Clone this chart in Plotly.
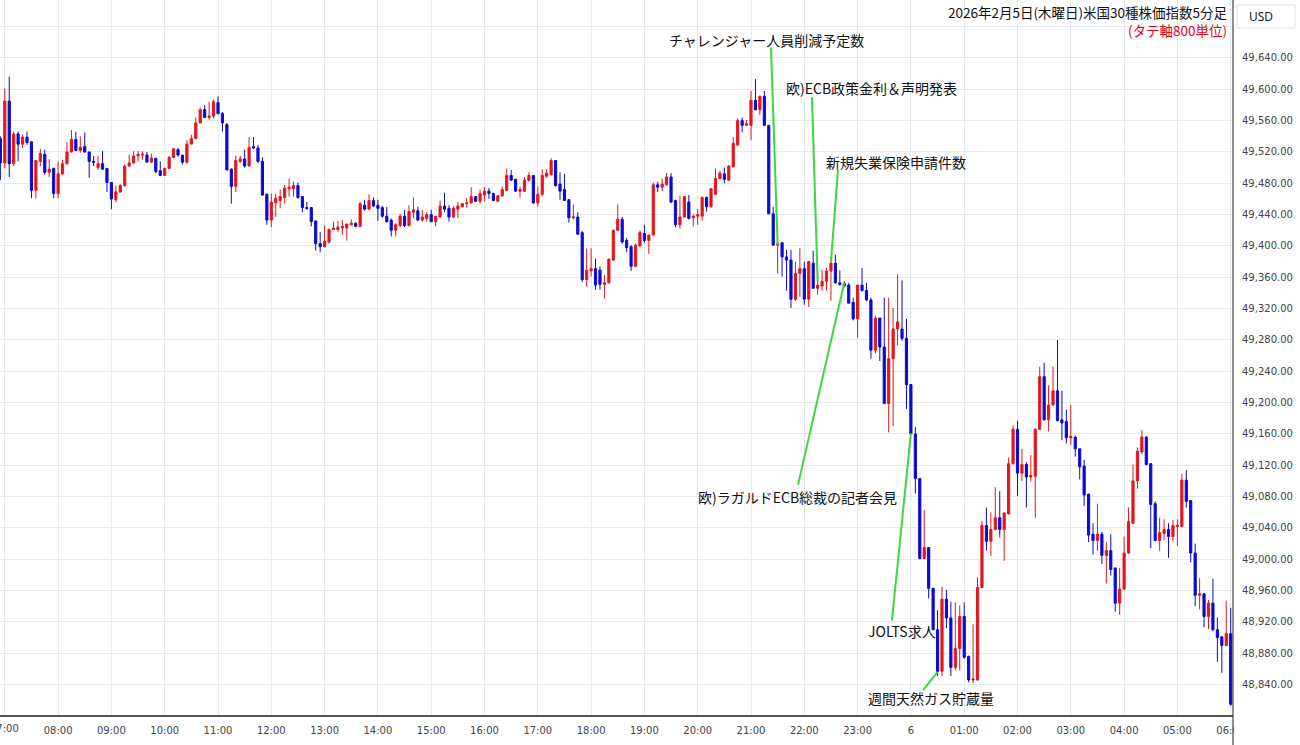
import pandas as pd
import plotly.graph_objects as go

# ---------------- data ----------------
start_time = "2026-02-05 06:55"
n_candles = 279
times = pd.date_range(start_time, periods=n_candles, freq="5min")

open_ = [
    49537, 49506, 49585, 49505, 49543, 49530, 49539, 49533, 49471, 49508,
    49517, 49494, 49499, 49467, 49492, 49505, 49520, 49536, 49522, 49527,
    49520, 49508, 49500, 49505, 49499, 49481, 49459, 49469, 49477, 49502,
    49506, 49515, 49516, 49516, 49507, 49512, 49496, 49490, 49499, 49513,
    49523, 49516, 49507, 49530, 49537, 49557, 49574, 49564, 49566, 49583,
    49569, 49555, 49498, 49476, 49508, 49511, 49502, 49527, 49525, 49508,
    49466, 49433, 49455, 49458, 49462, 49473, 49473, 49477, 49463, 49449,
    49449, 49432, 49403, 49399, 49405, 49421, 49421, 49423, 49423, 49427,
    49429, 49425, 49452, 49447, 49458, 49452, 49449, 49438, 49433, 49420,
    49426, 49438, 49426, 49443, 49445, 49433, 49435, 49440, 49431, 49437,
    49451, 49448, 49437, 49447, 49450, 49454, 49455, 49463, 49457, 49465,
    49470, 49467, 49457, 49464, 49471, 49490, 49485, 49470, 49470, 49484,
    49490, 49455, 49466, 49489, 49491, 49509, 49479, 49472, 49459, 49436,
    49437, 49417, 49357, 49368, 49371, 49369, 49351, 49353, 49382, 49420,
    49434, 49407, 49399, 49374, 49400, 49416, 49407, 49414, 49478, 49475,
    49478, 49488, 49458, 49427, 49437, 49456, 49436, 49438, 49438, 49462,
    49450, 49466, 49486, 49492, 49484, 49501, 49529, 49560, 49554, 49554,
    49586, 49574, 49591, 49554, 49441, 49401, 49404, 49386, 49382, 49332,
    49365, 49371, 49332, 49378, 49346, 49349, 49355, 49368, 49378, 49353,
    49352, 49350, 49328, 49307, 49350, 49343, 49331, 49267, 49308, 49271,
    49199, 49256, 49294, 49294, 49282, 49223, 49160, 49103, 49001, 49015,
    48963, 48910, 48857, 48949, 48925, 48862, 48886, 48927, 48876, 48846,
    48846, 48964, 49043, 49023, 49038, 49053, 49038, 49058, 49122, 49166,
    49110, 49121, 49105, 49106, 49166, 49233, 49178, 49197, 49215, 49178,
    49176, 49155, 49156, 49141, 49119, 49083, 49032, 49024, 49032, 49005,
    49011, 48989, 48944, 48962, 49008, 49046, 49100, 49137, 49156, 49122,
    49071, 49024, 49033, 49038, 49029, 49042, 49042, 49101, 49075, 49008,
    48954, 48956, 48927, 48944, 48910, 48901, 48890, 48905, 48815,
]

high = [
    49540, 49601, 49616, 49546, 49546, 49542, 49546, 49533, 49509, 49524,
    49523, 49511, 49500, 49508, 49510, 49533, 49548, 49546, 49540, 49545,
    49520, 49515, 49515, 49521, 49499, 49481, 49477, 49479, 49504, 49516,
    49521, 49521, 49521, 49520, 49518, 49512, 49508, 49500, 49515, 49525,
    49525, 49516, 49535, 49542, 49564, 49577, 49580, 49584, 49587, 49591,
    49571, 49557, 49499, 49515, 49515, 49523, 49539, 49539, 49529, 49513,
    49467, 49467, 49467, 49472, 49478, 49486, 49482, 49481, 49463, 49456,
    49449, 49432, 49418, 49426, 49422, 49431, 49432, 49433, 49428, 49434,
    49430, 49456, 49459, 49466, 49462, 49459, 49451, 49450, 49435, 49429,
    49441, 49446, 49452, 49462, 49450, 49446, 49443, 49446, 49438, 49458,
    49468, 49452, 49451, 49456, 49455, 49461, 49475, 49463, 49472, 49475,
    49474, 49468, 49465, 49476, 49499, 49497, 49486, 49476, 49488, 49494,
    49490, 49476, 49498, 49498, 49512, 49509, 49494, 49492, 49460, 49453,
    49443, 49419, 49397, 49397, 49384, 49374, 49363, 49384, 49421, 49453,
    49437, 49410, 49401, 49403, 49420, 49427, 49414, 49481, 49482, 49486,
    49493, 49493, 49459, 49464, 49463, 49465, 49440, 49447, 49463, 49463,
    49474, 49499, 49496, 49500, 49503, 49539, 49563, 49564, 49561, 49598,
    49613, 49592, 49598, 49554, 49450, 49404, 49405, 49395, 49395, 49380,
    49397, 49380, 49381, 49394, 49370, 49369, 49372, 49385, 49389, 49369,
    49355, 49353, 49334, 49350, 49372, 49353, 49334, 49311, 49308, 49334,
    49334, 49321, 49364, 49356, 49307, 49223, 49169, 49103, 49063, 49015,
    48963, 48935, 48965, 48961, 48946, 48945, 48941, 48945, 48877, 48917,
    48977, 49049, 49066, 49060, 49092, 49087, 49060, 49130, 49171, 49177,
    49141, 49124, 49133, 49167, 49246, 49251, 49222, 49246, 49280, 49215,
    49191, 49197, 49158, 49141, 49127, 49084, 49046, 49071, 49035, 49022,
    49032, 48989, 48989, 49029, 49066, 49121, 49143, 49165, 49157, 49123,
    49074, 49053, 49051, 49046, 49050, 49051, 49109, 49114, 49075, 49020,
    48976, 48957, 48948, 48975, 48926, 48901, 48947, 48938, 48834,
]

low = [
    49484, 49499, 49488, 49502, 49508, 49525, 49529, 49461, 49461, 49502,
    49491, 49488, 49461, 49461, 49491, 49504, 49519, 49521, 49519, 49519,
    49487, 49502, 49497, 49498, 49469, 49447, 49456, 49468, 49476, 49501,
    49505, 49508, 49510, 49507, 49506, 49493, 49489, 49490, 49499, 49513,
    49514, 49504, 49505, 49530, 49537, 49557, 49563, 49561, 49563, 49568,
    49546, 49497, 49454, 49469, 49506, 49500, 49502, 49524, 49506, 49464,
    49427, 49424, 49437, 49448, 49454, 49463, 49463, 49460, 49443, 49446,
    49425, 49394, 49392, 49398, 49403, 49420, 49418, 49414, 49407, 49427,
    49424, 49424, 49445, 49446, 49450, 49432, 49436, 49430, 49412, 49412,
    49424, 49424, 49425, 49435, 49432, 49431, 49431, 49431, 49425, 49436,
    49443, 49431, 49436, 49436, 49449, 49449, 49454, 49456, 49454, 49457,
    49460, 49457, 49456, 49463, 49470, 49483, 49469, 49462, 49469, 49482,
    49454, 49450, 49463, 49487, 49490, 49476, 49459, 49458, 49430, 49434,
    49414, 49354, 49348, 49361, 49344, 49344, 49333, 49352, 49381, 49419,
    49403, 49392, 49368, 49373, 49399, 49404, 49390, 49413, 49469, 49470,
    49477, 49455, 49424, 49422, 49436, 49434, 49425, 49427, 49432, 49444,
    49449, 49465, 49485, 49480, 49483, 49500, 49528, 49545, 49554, 49535,
    49573, 49567, 49554, 49441, 49401, 49365, 49361, 49343, 49321, 49330,
    49335, 49325, 49322, 49345, 49338, 49343, 49343, 49330, 49352, 49349,
    49347, 49327, 49305, 49283, 49342, 49330, 49256, 49263, 49253, 49198,
    49162, 49170, 49273, 49279, 49192, 49159, 49084, 49000, 49000, 48950,
    48910, 48851, 48851, 48912, 48851, 48858, 48858, 48873, 48843, 48842,
    48845, 48964, 49011, 49004, 49037, 49028, 48998, 49057, 49121, 49081,
    49100, 49066, 49099, 49053, 49165, 49177, 49163, 49196, 49176, 49152,
    49148, 49146, 49131, 49102, 49068, 49022, 49006, 49011, 48994, 48969,
    48979, 48933, 48929, 48961, 49007, 49045, 49090, 49134, 49120, 49014,
    49023, 49011, 49024, 49002, 49023, 49017, 49041, 49066, 48996, 48940,
    48936, 48913, 48911, 48908, 48869, 48855, 48889, 48813, 48812,
]

close = [
    49506, 49585, 49505, 49543, 49530, 49539, 49532, 49471, 49509, 49518,
    49494, 49498, 49467, 49492, 49505, 49520, 49536, 49522, 49526, 49520,
    49508, 49507, 49505, 49498, 49481, 49460, 49469, 49477, 49502, 49506,
    49515, 49517, 49517, 49507, 49512, 49495, 49490, 49499, 49513, 49524,
    49516, 49507, 49530, 49537, 49557, 49574, 49564, 49566, 49584, 49569,
    49557, 49497, 49476, 49509, 49511, 49502, 49526, 49525, 49508, 49465,
    49433, 49456, 49461, 49463, 49474, 49475, 49477, 49462, 49449, 49448,
    49431, 49403, 49399, 49406, 49421, 49423, 49424, 49425, 49428, 49429,
    49425, 49454, 49447, 49458, 49451, 49448, 49438, 49431, 49420, 49427,
    49438, 49426, 49444, 49446, 49433, 49437, 49440, 49431, 49438, 49451,
    49447, 49437, 49448, 49451, 49454, 49455, 49463, 49457, 49467, 49470,
    49467, 49458, 49464, 49472, 49490, 49484, 49470, 49472, 49484, 49490,
    49455, 49466, 49490, 49493, 49509, 49477, 49470, 49458, 49436, 49437,
    49415, 49357, 49369, 49371, 49350, 49351, 49353, 49383, 49420, 49434,
    49405, 49398, 49374, 49401, 49417, 49407, 49414, 49478, 49475, 49479,
    49488, 49456, 49427, 49437, 49463, 49435, 49438, 49440, 49462, 49450,
    49473, 49486, 49493, 49485, 49502, 49531, 49560, 49554, 49556, 49586,
    49574, 49591, 49554, 49441, 49401, 49403, 49386, 49382, 49332, 49365,
    49371, 49332, 49380, 49346, 49350, 49355, 49368, 49378, 49353, 49351,
    49349, 49327, 49307, 49350, 49343, 49331, 49267, 49308, 49271, 49199,
    49256, 49294, 49303, 49282, 49223, 49160, 49103, 49001, 49015, 48963,
    48910, 48857, 48949, 48925, 48862, 48886, 48927, 48875, 48846, 48847,
    48964, 49043, 49023, 49038, 49053, 49038, 49059, 49122, 49166, 49110,
    49121, 49105, 49107, 49166, 49233, 49178, 49197, 49215, 49177, 49174,
    49155, 49157, 49141, 49118, 49082, 49031, 49024, 49032, 49005, 49011,
    48987, 48944, 48962, 49008, 49048, 49100, 49138, 49156, 49121, 49070,
    49024, 49034, 49038, 49029, 49043, 49043, 49101, 49074, 49008, 48954,
    48956, 48927, 48944, 48910, 48900, 48890, 48905, 48815, 48832,
]

# hourly tick labels (midnight shows the day number)
tick_times = pd.date_range("2026-02-05 07:00", "2026-02-06 06:00", freq="h")
tick_labels = [
    "07:00", "08:00", "09:00", "10:00", "11:00", "12:00", "13:00", "14:00",
    "15:00", "16:00", "17:00", "18:00", "19:00", "20:00", "21:00", "22:00",
    "23:00", "6", "01:00", "02:00", "03:00", "04:00", "05:00", "06:00",
]
y_ticks = list(range(48840, 49681, 40))
y_tick_labels = [f"{v:,.2f}" if v <= 49640 else "" for v in y_ticks]

# economic events: label, event time, event price (line tip)
event_labels = [
    "チャレンジャー人員削減予定数",
    "欧)ECB政策金利＆声明発表",
    "新規失業保険申請件数",
    "欧)ラガルドECB総裁の記者会見",
    "JOLTS求人",
    "週間天然ガス貯蔵量",
]
event_times = [
    "2026-02-05 21:30", "2026-02-05 22:15", "2026-02-05 22:30",
    "2026-02-05 22:45", "2026-02-06 00:00", "2026-02-06 00:30",
]
event_prices = [49401, 49355, 49380, 49353, 49161, 48856]
# where each connector line starts (near its label)
line_start_times = [
    "2026-02-05 21:22:30", "2026-02-05 22:08:38", "2026-02-05 22:37:55",
    "2026-02-05 21:52:55", "2026-02-05 23:38:42", "2026-02-06 00:13:37",
]
line_start_prices = [49653, 49590, 49497, 49095, 48922, 48833]
# label centres
label_times = [
    "2026-02-05 21:18:00", "2026-02-05 23:15:06", "2026-02-05 23:43:12",
    "2026-02-05 21:51:47", "2026-02-05 23:50:00", "2026-02-06 00:22:37",
]
label_prices = [49663, 49602, 49507, 49080, 48908, 48823]

title_text = "2026年2月5日(木曜日)米国30種株価指数5分足"
subtitle_text = "(タテ軸800単位)"
currency_text = "USD"

# ---------------- figure ----------------
RED = "#e3171c"
BLUE = "#0a0ad2"
GRID = "#e2e9ef"
GREEN = "#3ad83a"
CJK = "Noto Sans CJK JP"
AXIS_FONT = dict(family="DejaVu Sans", size=10, color="#444444")

fig = go.Figure()
fig.add_trace(go.Candlestick(
    x=times, open=open_, high=high, low=low, close=close,
    increasing=dict(line=dict(color=RED, width=1), fillcolor=RED),
    decreasing=dict(line=dict(color=BLUE, width=1), fillcolor=BLUE),
    whiskerwidth=0, hoverinfo="skip", showlegend=False,
))

shapes = []
for t0, p0, t1, p1 in zip(line_start_times, line_start_prices, event_times, event_prices):
    shapes.append(dict(type="line", xref="x", yref="y", x0=t0, y0=p0, x1=t1, y1=p1,
                       line=dict(color=GREEN, width=2), layer="above"))

# separator line between plot and price scale (full height)
shapes.append(dict(type="line", xref="paper", yref="paper", x0=1, x1=1, y0=-0.05, y1=1,
                   line=dict(color="#444444", width=1.2), layer="above"))
# mask for the part of the last time label that runs into the price scale
shapes.append(dict(type="rect", xref="paper", yref="paper", x0=1.0009, x1=1.06, y0=-0.05, y1=-0.003,
                   fillcolor="white", line=dict(width=0), layer="above"))
# currency box
shapes.append(dict(type="rect", xref="paper", yref="paper", x0=1.0033, x1=1.0503, y0=0.9608, y1=0.993,
                   fillcolor="white", line=dict(color="#dedede", width=1), layer="above"))

annotations = []
for lab, t, p in zip(event_labels, label_times, label_prices):
    annotations.append(dict(text=lab, x=t, y=p, xref="x", yref="y", showarrow=False,
                            xanchor="center", yanchor="middle",
                            font=dict(family=CJK, size=14, color="#111111")))
annotations.append(dict(
    text=f"{title_text}<br><span style='color:#e60012'>{subtitle_text}</span>",
    x=0.9972, y=0.9995, xref="paper", yref="paper", align="right",
    showarrow=False, xanchor="right", yanchor="top",
    font=dict(family=CJK, size=13.5, color="#111111")))
annotations.append(dict(text=currency_text, x=1.0114, y=0.977, xref="paper", yref="paper",
                        showarrow=False, xanchor="left", yanchor="middle",
                        font=dict(family="Noto Sans", size=12, color="#222222")))
# first hour label sits on the left edge and is cut off there (Plotly hides it as a tick)
annotations.append(dict(text=tick_labels[0], x=tick_times[0], y=-0.0185, xref="x", yref="paper",
                        showarrow=False, xanchor="center", yanchor="middle", font=AXIS_FONT))

fig.update_layout(
    width=1300, height=745,
    margin=dict(l=0, r=67, t=0, b=30),
    paper_bgcolor="white", plot_bgcolor="white",
    showlegend=False,
    shapes=shapes, annotations=annotations,
    xaxis=dict(
        type="date",
        range=["2026-02-05 06:54:36", "2026-02-06 06:02:35"],
        tickvals=tick_times, ticktext=tick_labels,
        showgrid=True, gridcolor=GRID, gridwidth=1,
        showline=True, linecolor="#555555", linewidth=2,
        ticks="", zeroline=False,
        tickfont=AXIS_FONT,
        ticklabelstandoff=5,
        rangeslider=dict(visible=False),
        automargin=False,
    ),
    yaxis=dict(
        side="right",
        range=[48801.2, 49714.0],
        tickvals=y_ticks, ticktext=y_tick_labels,
        showgrid=True, gridcolor=GRID, gridwidth=1,
        showline=False, ticks="", zeroline=False,
        tickfont=AXIS_FONT,
        ticklabelstandoff=8,
        automargin=False,
    ),
)

fig.write_html("out.html", config={"displayModeBar": False},
               post_script="document.body.style.margin='0';")
